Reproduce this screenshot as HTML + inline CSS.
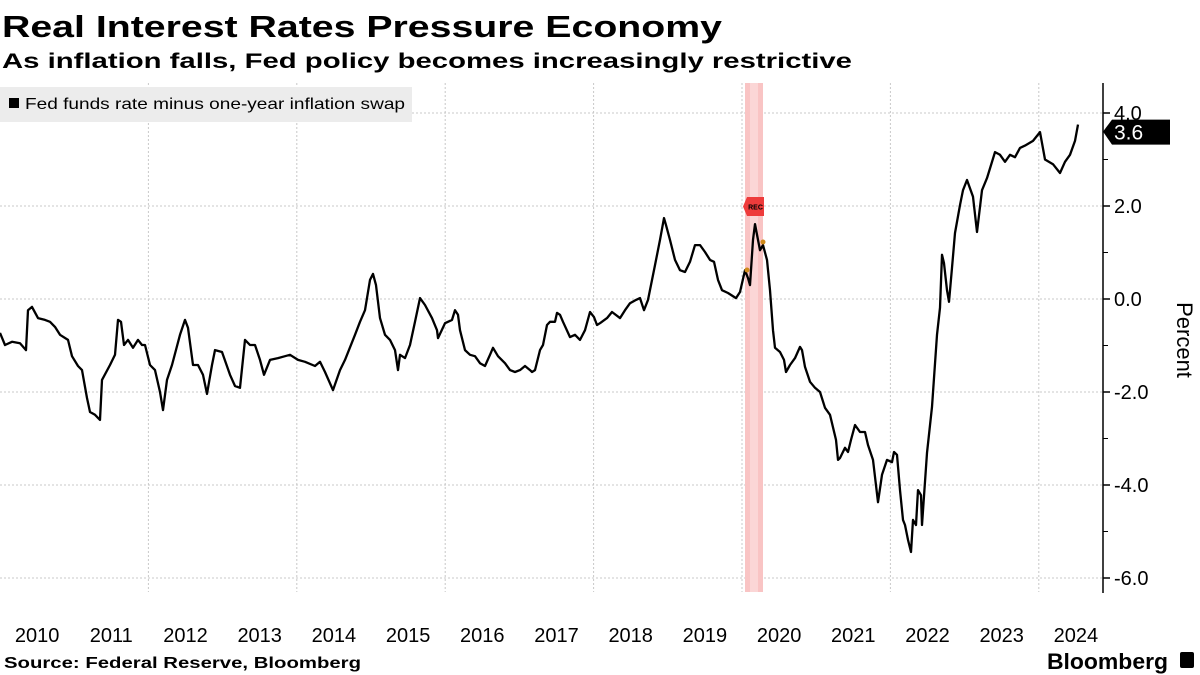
<!DOCTYPE html>
<html><head><meta charset="utf-8"><style>
body{margin:0;width:1200px;height:675px;background:#fff;overflow:hidden;font-family:"Liberation Sans",sans-serif;}
svg{position:absolute;left:0;top:0}
</style></head><body>
<svg width="1200" height="675">
<text x="2" y="37" font-size="31" font-weight="bold" fill="#000" textLength="720" lengthAdjust="spacingAndGlyphs">Real Interest Rates Pressure Economy</text>
<text x="2" y="68" font-size="21" font-weight="bold" fill="#000" textLength="850" lengthAdjust="spacingAndGlyphs">As inflation falls, Fed policy becomes increasingly restrictive</text>
<g id="grid"></g>
<rect x="745" y="83" width="18" height="509" fill="#f9c4c4"/>
<rect x="750" y="83" width="8" height="509" fill="#fbd6d6"/>
<g>
<polygon points="747,197 764,197 764,216 747,216 743,206.5" fill="#ee3b3b"/>
<text x="755.5" y="209.5" font-size="7" font-weight="bold" text-anchor="middle" fill="#000">REC</text>
</g>
<rect x="0" y="87" width="412" height="35" fill="#ececec"/>
<rect x="9" y="98" width="10" height="10" fill="#000"/>
<text x="25" y="109" font-size="16" fill="#000" textLength="380" lengthAdjust="spacingAndGlyphs">Fed funds rate minus one-year inflation swap</text>
<path id="series" fill="none" stroke="#000" stroke-width="2.3" stroke-linejoin="round"/>
<circle cx="747" cy="270" r="2.5" fill="#d08a1a"/>
<circle cx="763" cy="242" r="2.5" fill="#d08a1a"/>
<line x1="1103" y1="83" x2="1103" y2="593" stroke="#000" stroke-width="1.5"/>
<g id="yaxis"></g>
<g id="xaxis"></g>
<g id="lastlabel"></g>
<text transform="translate(1177,340) rotate(90)" font-size="22" text-anchor="middle" fill="#000">Percent</text>
<text x="4" y="668" font-size="16" font-weight="bold" fill="#000" textLength="357" lengthAdjust="spacingAndGlyphs">Source: Federal Reserve, Bloomberg</text>
<text x="1047" y="669" font-size="22" font-weight="bold" fill="#000" textLength="121" lengthAdjust="spacingAndGlyphs">Bloomberg</text>
<rect x="1180" y="652" width="14" height="16" rx="2" fill="#000"/>
</svg>
<script>
const dates=[2010.000,2010.067,2010.162,2010.270,2010.350,2010.377,2010.431,2010.512,2010.606,2010.674,2010.741,2010.809,2010.916,2010.970,2011.051,2011.105,2011.173,2011.213,2011.280,2011.348,2011.375,2011.482,2011.550,2011.590,2011.631,2011.671,2011.725,2011.792,2011.860,2011.914,2011.954,2012.022,2012.089,2012.156,2012.197,2012.251,2012.318,2012.426,2012.493,2012.534,2012.601,2012.668,2012.736,2012.790,2012.857,2012.898,2012.992,2013.100,2013.167,2013.235,2013.302,2013.369,2013.437,2013.504,2013.558,2013.639,2013.747,2013.841,2013.908,2014.016,2014.111,2014.245,2014.313,2014.380,2014.488,2014.582,2014.650,2014.784,2014.852,2014.919,2014.987,2015.027,2015.067,2015.121,2015.189,2015.256,2015.323,2015.364,
2015.391,2015.458,2015.526,2015.593,2015.660,2015.728,2015.822,2015.889,2015.903,2015.997,2016.092,2016.132,2016.173,2016.199,2016.267,2016.334,2016.402,2016.469,2016.536,2016.604,2016.644,2016.712,2016.806,2016.873,2016.941,2017.008,2017.075,2017.143,2017.170,2017.210,2017.278,2017.318,2017.372,2017.412,2017.480,2017.507,2017.547,2017.588,2017.682,2017.749,2017.817,2017.884,2017.951,2018.005,2018.046,2018.086,2018.181,2018.248,2018.356,2018.423,2018.491,2018.571,2018.625,2018.679,2018.733,2018.827,2018.895,2018.949,2018.976,2019.030,2019.097,2019.164,2019.232,2019.299,2019.367,2019.434,2019.501,2019.569,2019.623,2019.677,2019.730,2019.811,2019.919,2019.973,2020.040,2020.081,2020.108,2020.148,2020.175,2020.216,2020.243,2020.283,2020.337,2020.377,2020.418,2020.445,2020.512,2020.566,2020.593,2020.647,2020.714,2020.782,2020.809,2020.849,2020.916,2020.984,2021.051,2021.119,2021.186,2021.267,2021.294,2021.321,2021.388,2021.429,2021.469,2021.523,2021.590,2021.658,2021.698,2021.765,2021.833,2021.887,2021.954,2022.022,2022.049,2022.089,2022.129,2022.170,2022.197,2022.237,2022.278,2022.305,2022.345,2022.372,2022.412,2022.426,2022.493,2022.561,2022.628,2022.668,2022.695,2022.722,2022.763,2022.790,2022.830,2022.871,2022.938,2022.978,2023.032,2023.113,2023.167,2023.235,2023.302,2023.410,2023.477,2023.544,2023.612,2023.679,2023.747,2023.814,2023.922,2024.016,2024.084,2024.191,2024.286,2024.353,2024.420,2024.488,2024.528];
const values=[-0.73,-0.99,-0.92,-0.95,-1.10,-0.24,-0.17,-0.41,-0.45,-0.49,-0.60,-0.77,-0.88,-1.23,-1.44,-1.53,-2.13,-2.43,-2.49,-2.60,-1.74,-1.42,-1.20,-0.45,-0.49,-0.99,-0.88,-1.05,-0.88,-0.99,-0.99,-1.42,-1.53,-2.00,-2.39,-1.74,-1.42,-0.77,-0.45,-0.62,-1.42,-1.42,-1.63,-2.04,-1.42,-1.10,-1.14,-1.63,-1.87,-1.91,-0.88,-0.99,-0.99,-1.31,-1.63,-1.31,-1.27,-1.23,-1.20,-1.31,-1.35,-1.44,-1.35,-1.57,-1.96,-1.53,-1.31,-0.77,-0.49,-0.24,0.41,0.54,0.30,-0.41,-0.77,-0.88,-1.10,-1.53,
-1.20,-1.27,-0.99,-0.49,0.02,-0.13,-0.41,-0.67,-0.84,-0.52,-0.45,-0.24,-0.34,-0.67,-1.10,-1.20,-1.23,-1.38,-1.44,-1.20,-1.05,-1.23,-1.38,-1.53,-1.57,-1.53,-1.44,-1.53,-1.57,-1.53,-1.10,-0.99,-0.56,-0.49,-0.49,-0.30,-0.34,-0.49,-0.82,-0.77,-0.88,-0.67,-0.28,-0.39,-0.56,-0.52,-0.41,-0.28,-0.41,-0.24,-0.09,-0.02,0.02,-0.24,-0.02,0.73,1.27,1.74,1.59,1.27,0.84,0.62,0.58,0.80,1.16,1.16,1.01,0.84,0.80,0.41,0.19,0.13,0.02,0.15,0.62,0.45,0.30,1.27,1.61,1.27,1.05,1.16,0.84,0.19,-0.67,-1.05,-1.14,-1.31,-1.57,-1.42,-1.27,-1.03,-1.10,-1.46,-1.78,-1.91,-2.00,-2.34,-2.49,-3.03,-3.46,-3.42,-3.20,-3.29,-3.03,-2.71,-2.86,-2.86,-3.14,-3.46,-4.37,-3.78,-3.46,-3.51,-3.29,-3.35,-4.11,-4.75,-4.86,-5.18,-5.44,-4.75,-4.86,-4.11,-4.22,-4.86,-3.31,-2.32,-0.77,-0.19,0.95,0.77,0.19,-0.06,0.67,1.42,2.02,2.34,2.56,2.20,1.44,2.34,2.60,3.16,3.10,2.95,3.10,3.05,3.25,3.30,3.40,3.59,3.00,2.90,2.71,2.95,3.10,3.40,3.75,3.62];
const yTicks=[4,2,0,-2,-4,-6];
const yTickLabels=["4.0","2.0","0.0","-2.0","-4.0","-6.0"];
const xYears=[2010,2011,2012,2013,2014,2015,2016,2017,2018,2019,2020,2021,2022,2023,2024];
const gridYears=[2012,2014,2016,2018,2020,2022,2024];
const lastValue=3.6;
const X=d=>(d-2010)*74.2;
const Y=v=>299-v*46.5;
const NS="http://www.w3.org/2000/svg";
function mk(tag,attrs,parent){const e=document.createElementNS(NS,tag);for(const k in attrs)e.setAttribute(k,attrs[k]);parent.appendChild(e);return e;}
const grid=document.getElementById('grid');
yTicks.forEach(v=>{const l=mk('line',{x1:0,x2:1103,y1:Y(v),y2:Y(v),stroke:'#c8c8c8','stroke-dasharray':'2,2'},grid);

});
gridYears.forEach(y=>{const l=mk('line',{x1:X(y),x2:X(y),y1:83,y2:592,stroke:'#c8c8c8','stroke-dasharray':'2,2'},grid);

});
const ya=document.getElementById('yaxis');
yTicks.forEach((v,i)=>{const t=mk('text',{x:1114,y:Y(v)+7,'font-size':20,fill:'#000'},ya);t.textContent=yTickLabels[i];


mk('line',{x1:1103,x2:1110,y1:Y(v),y2:Y(v),stroke:'#000','stroke-width':1.5},ya);
if(v>-6){mk('line',{x1:1103,x2:1108,y1:Y(v-1),y2:Y(v-1),stroke:'#000','stroke-width':1},ya);}});
const xa=document.getElementById('xaxis');
xYears.forEach(y=>{const t=mk('text',{x:X(y+0.5),y:642,'font-size':20,'text-anchor':'middle',fill:'#000'},xa);t.textContent=y;

});
let d='';dates.forEach((dt,i)=>{d+=(i?'L':'M')+X(dt).toFixed(1)+','+Y(values[i]).toFixed(1);});
document.getElementById('series').setAttribute('d',d);
const ll=document.getElementById('lastlabel');const ly=Y(lastValue);
mk('polygon',{points:`1103,${ly} 1112,${ly-12} 1170,${ly-12} 1170,${ly+13} 1112,${ly+13}`,fill:'#000'},ll);
const lt=mk('text',{x:1114,y:ly+8,'font-size':21,fill:'#fff'},ll);lt.textContent=lastValue.toFixed(1);


</script>
</body></html>
